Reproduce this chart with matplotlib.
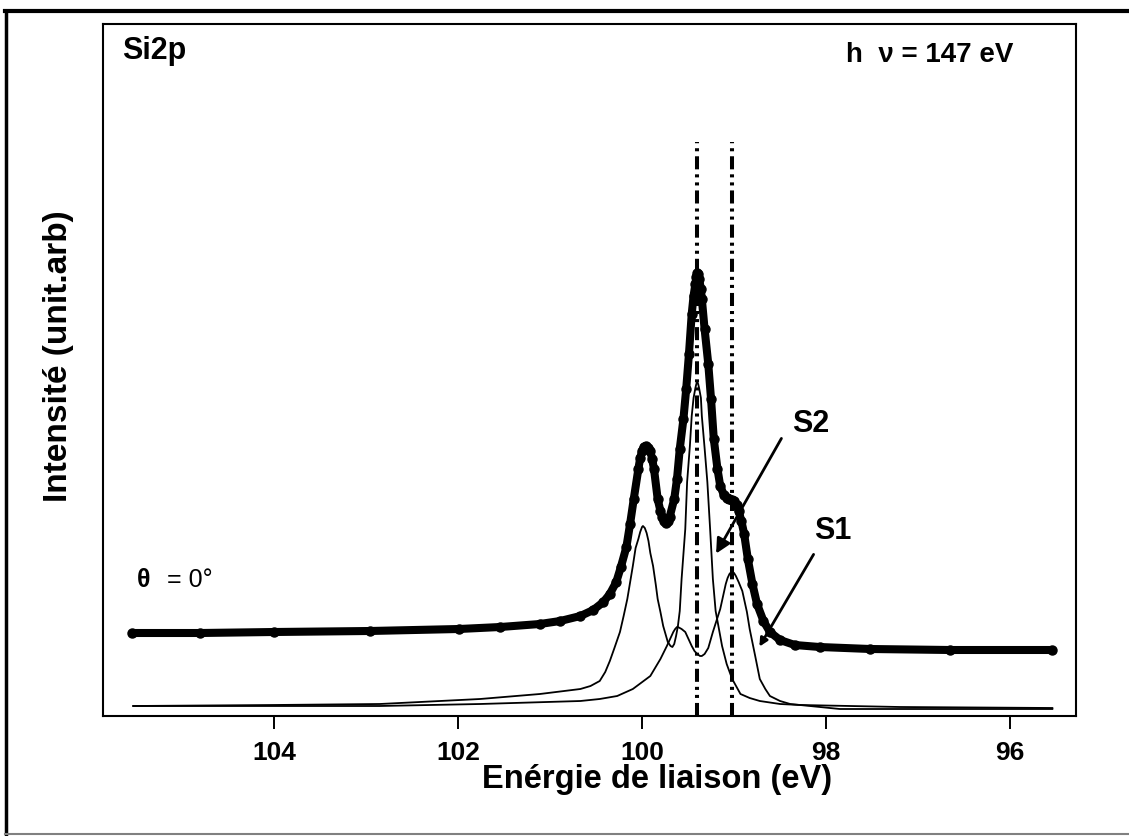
import matplotlib
matplotlib.use('Agg')
import matplotlib.pyplot as plt
from matplotlib.lines import Line2D

plt.rcParams['font.family'] = ['Liberation Sans', 'DejaVu Sans']
plt.rcParams['lines.scale_dashes'] = False

# binding energy (eV) / intensity (arb. units) of the fitted envelope
env_e = [105.54, 104.80, 104.00, 102.96, 101.99, 101.54, 101.11, 100.89, 100.67,
         100.53, 100.42, 100.35, 100.28, 100.23, 100.17, 100.13, 100.09, 100.04,
         100.02, 100.00, 99.98, 99.96, 99.94, 99.91, 99.89, 99.87, 99.83, 99.80,
         99.78, 99.76, 99.74, 99.72, 99.70, 99.65, 99.62,
         99.59, 99.55, 99.52, 99.49, 99.46, 99.44, 99.42, 99.41, 99.40, 99.39,
         99.38, 99.36, 99.35, 99.32,
         99.28, 99.25, 99.22, 99.18, 99.15, 99.11, 99.08, 99.05, 99.02, 99.00,
         98.97, 98.95, 98.92, 98.89,
         98.85, 98.80, 98.75, 98.68, 98.61, 98.50, 98.34, 98.07, 97.52, 96.65, 95.54]
env_i = [83, 83, 84, 85, 87, 89, 92, 95, 100,
         106, 114, 122, 134, 149, 169, 192, 217, 247,
         258, 265, 269, 270, 268, 265, 257, 247, 217, 205,
         199, 195, 193, 195, 199, 217, 237,
         267, 297, 327, 362, 402, 420, 432, 439, 443, 442,
         437, 427, 417, 387,
         352, 317, 277, 247, 230, 221, 218, 217, 216, 215,
         211, 205, 195, 182,
         157, 132, 112, 95, 84, 76, 71, 69, 67, 66, 66]

# bulk component (2p1/2 + 2p3/2)
bulk_e = [105.53, 104.00, 102.85, 101.76, 101.11, 100.67, 100.56, 100.46, 100.40,
          100.35, 100.30, 100.24, 100.20,
          100.16, 100.10, 100.07, 100.04, 100.02, 100.00, 99.99, 99.97, 99.95,
          99.93, 99.91, 99.88, 99.85, 99.83, 99.80, 99.77, 99.72, 99.69, 99.67,
          99.65, 99.63, 99.61, 99.59, 99.57, 99.53, 99.51, 99.48, 99.46, 99.44,
          99.42, 99.41, 99.40, 99.39, 99.38, 99.36, 99.35, 99.32, 99.29, 99.26,
          99.23, 99.20, 99.16, 99.13, 99.08, 99.02, 98.93, 98.83,
          98.72, 98.50, 98.28, 97.20, 95.54]
bulk_i = [10, 11, 12, 17, 22, 27, 30, 35, 44,
          55, 68, 84, 100,
          117, 150, 168, 177, 184, 189, 190, 188, 183,
          175, 163, 150, 131, 117, 104, 90, 74, 70, 69,
          72, 80, 90, 105, 137, 187, 234, 270, 300, 318,
          328, 332, 334, 332, 328, 318, 300, 268, 234, 187,
          137, 105, 85, 70, 52, 37, 22, 18,
          15, 12, 11, 9, 8]

# surface component S1
s1_e = [105.53, 102.85, 101.76, 100.67, 100.46, 100.27, 100.10, 99.91, 99.80,
        99.73, 99.66, 99.64, 99.62, 99.61, 99.59, 99.57, 99.53, 99.46, 99.43,
        99.40, 99.37, 99.35, 99.32, 99.28, 99.23, 99.15,
        99.09, 99.07, 99.05, 99.03, 99.02, 99.00, 98.98, 98.95, 98.91,
        98.86, 98.83, 98.77, 98.72, 98.66, 98.61, 98.50, 98.39,
        97.85, 95.54]
s1_i = [10, 10, 12, 15, 17, 20, 27, 40, 57,
        70, 84, 87, 89, 89, 88, 87, 84, 70, 65,
        62, 60, 60, 62, 68, 84, 107,
        132, 138, 142, 144, 144, 143, 140, 134, 125,
        104, 87, 60, 37, 27, 20, 15, 12,
        7, 7]

# reference energies marked by vertical lines
ref_e = [99.40, 99.02]
ref_top = 574

xticks = [104, 102, 100, 98, 96]

fig = plt.figure(figsize=(11.29, 8.37), dpi=100)
W, H = 1129, 837
ax = fig.add_axes([103 / W, 1 - 717 / H, (1076 - 103) / W, (717 - 25) / H])

ax.plot(bulk_e, bulk_i, color='k', lw=1.3, zorder=2)
ax.plot(s1_e, s1_i, color='k', lw=1.3, zorder=2)
ax.plot(env_e, env_i, color='k', lw=5.8, marker='o', ms=6.5,
        solid_capstyle='round', solid_joinstyle='round', zorder=3)

for e in ref_e:
    ax.plot([e, e], [0, ref_top], color='k', lw=2.9,
            dashes=(9.4, 3.6, 2.2, 3.6, 2.2, 3.6), zorder=4)

# labels for the surface components
ax.annotate('', xy=(99.21, 160), xytext=(98.47, 280),
            arrowprops=dict(arrowstyle='-|>', color='k', lw=2, mutation_scale=22))
ax.annotate('', xy=(98.74, 67), xytext=(98.12, 164),
            arrowprops=dict(arrowstyle='-|>', color='k', lw=2, mutation_scale=12))
ax.text(98.17, 293, 'S2', fontsize=22, fontweight='bold', ha='center', va='center')
ax.text(97.93, 186, 'S1', fontsize=22, fontweight='bold', ha='center', va='center')

ax.text(0.0195, 0.951, 'Si2p', transform=ax.transAxes, fontsize=22,
        fontweight='bold', ha='left', va='baseline')
ax.text(0.936, 0.9465, 'h  ν = 147 eV', transform=ax.transAxes, fontsize=20,
        fontweight='bold', ha='right', va='baseline')
ax.text(0.035, 0.188, 'θ', transform=ax.transAxes, fontsize=18,
        fontweight='bold', ha='left', va='baseline')
ax.text(0.066, 0.188, '= 0°', transform=ax.transAxes, fontsize=18,
        ha='left', va='baseline')

ax.set_xlim(105.859, 95.283)
ax.set_ylim(0, 692)
ax.set_xticks(xticks)
ax.set_xticklabels([str(t) for t in xticks], fontsize=19, fontweight='bold')
ax.set_yticks([])
ax.tick_params(axis='x', direction='out', length=9.4, width=1.4, pad=8)
for s in ax.spines.values():
    s.set_linewidth(1.5)

ax.set_xlabel('Enérgie de liaison (eV)', fontsize=23.5, fontweight='bold')
ax.xaxis.set_label_coords(0.569, -0.0896)
ax.xaxis.label.set_va('center')
ax.set_ylabel('Intensité (unit.arb)', fontsize=24, fontweight='bold')
ax.yaxis.set_label_coords(-0.046, 0.5217)
ax.yaxis.label.set_va('center')

# outer frame
fig.add_artist(Line2D([6 / W, 6 / W], [1 - 12 / H, 1 - 835 / H], color='k', lw=2.5))
fig.add_artist(Line2D([5 / W, 1], [1 - 12 / H, 1 - 12 / H], color='k', lw=3))
fig.add_artist(Line2D([5 / W, 1], [1 - 835 / H, 1 - 835 / H], color='0.5', lw=1.5))

fig.savefig('out.png', dpi=100)
